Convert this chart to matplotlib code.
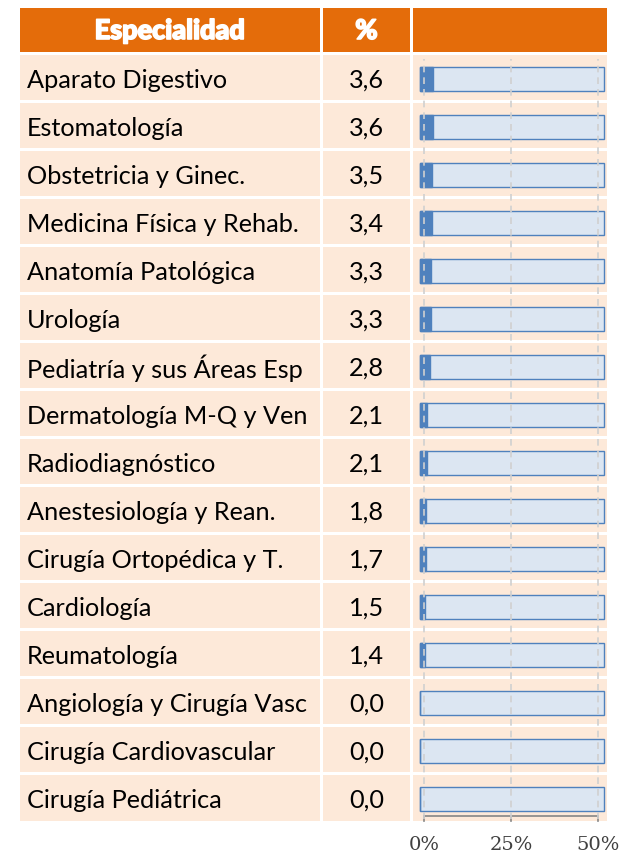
import matplotlib
matplotlib.use("Agg")
import matplotlib.pyplot as plt
import matplotlib.transforms as mtransforms
import matplotlib.patheffects as pe

# Specialties and their share (%)
especialidades = [
    "Aparato Digestivo", "Estomatología", "Obstetricia y Ginec.",
    "Medicina Física y Rehab.", "Anatomía Patológica", "Urología",
    "Pediatría y sus Áreas Esp", "Dermatología M-Q y Ven", "Radiodiagnóstico",
    "Anestesiología y Rean.", "Cirugía Ortopédica y T.", "Cardiología",
    "Reumatología", "Angiología y Cirugía Vasc", "Cirugía Cardiovascular",
    "Cirugía Pediátrica",
]
porcentajes = [3.6, 3.6, 3.5, 3.4, 3.3, 3.3, 2.8, 2.1, 2.1, 1.8, 1.7, 1.5, 1.4, 0.0, 0.0, 0.0]
ticks = [0, 25, 50]
tick_labels = ["0%", "25%", "50%"]
headers = ["Especialidad", "%"]

W, H = 623, 853
ORANGE = "#E46C0A"
PEACH = "#FDE9D9"
BLUE = "#4F81BD"
LIGHT_BLUE = "#DCE6F2"
FONT = "Lato"

fig = plt.figure(figsize=(W / 100, H / 100), dpi=100)
tab = fig.add_axes([0, 0, 1, 1])
tab.set_xlim(0, W)
tab.set_ylim(H, 0)
tab.axis("off")

# column edges in pixels
cols = [(20, 320), (323, 410), (413, 607)]
row_top, row_h, gap = 56, 48, 3

# header (thin white stroke makes the bold look heavier)
heavy = [pe.withStroke(linewidth=1.2, foreground="white")]
for x0, x1 in cols:
    tab.add_patch(plt.Rectangle((x0, 9), x1 - x0, 44, color=ORANGE, lw=0))
tab.text(170, 32, headers[0], color="white", fontsize=19.5, fontweight="black",
         family=FONT, ha="center", va="center", path_effects=heavy)
tab.text(366.5, 32, headers[1], color="white", fontsize=19.5, fontweight="black",
         family=FONT, ha="center", va="center", path_effects=heavy)

# body rows
for i, (name, val) in enumerate(zip(especialidades, porcentajes)):
    y0 = row_top + i * row_h
    h = row_h - gap if i < len(especialidades) - 1 else row_h - 2
    for x0, x1 in cols:
        tab.add_patch(plt.Rectangle((x0, y0), x1 - x0, h, color=PEACH, lw=0))
    yc = y0 + (row_h - gap) / 2 + 2
    tab.text(27, yc, name, fontsize=18.2, family=FONT, ha="left", va="center", color="black")
    tab.text(366.5, yc, f"{val:.1f}".replace(".", ","), fontsize=18.2, family=FONT,
             ha="center", va="center", color="black")

# bar chart inside the third column
n = len(porcentajes)
chart_top, chart_bot = row_top, row_top + n * row_h
ax = fig.add_axes([413 / W, 1 - chart_bot / H, (607 - 413) / W, (chart_bot - chart_top) / H])
ax.patch.set_alpha(0)
px_per_unit = 3.48
ax.set_xlim(-(420 - 413) / px_per_unit, (607 - 420) / px_per_unit)
ax.set_ylim(n - 0.5, -0.5)
for s in ax.spines.values():
    s.set_visible(False)
ax.set_yticks([])
ax.set_xticks([])

pos = list(range(n))
ax.barh(pos, [52.9] * n, left=0, height=0.52, color=LIGHT_BLUE, edgecolor=BLUE, lw=1.0, zorder=1)
ax.barh(pos, porcentajes, left=0, height=0.52, color=BLUE, edgecolor=BLUE, lw=1.0, zorder=2)

# gridlines and axis sit a few pixels to the right of the bar origin
shift = mtransforms.ScaledTranslation(4 / 100, 0, fig.dpi_scale_trans)
grid_tr = ax.get_xaxis_transform() + shift
for t in ticks:
    ax.plot([t, t], [0.005, 0.995], color="#D0D0D0", ls=(0, (4, 3)), lw=1.2,
            zorder=3, transform=grid_tr)

# bottom axis line, tick marks and labels (x in display pixels, y in table pixels)
axis_y = 817
ax_tr = ax.transData + shift
pix_tr = mtransforms.blended_transform_factory(mtransforms.IdentityTransform(), tab.transData)
tick_px = [ax_tr.transform((t, 0))[0] for t in ticks]
tab.plot([tick_px[0], tick_px[-1]], [axis_y, axis_y], color="#868686", lw=1.2, transform=pix_tr)
for xpix, lab in zip(tick_px, tick_labels):
    tab.plot([xpix, xpix], [axis_y, axis_y + 5], color="#868686", lw=1.2, transform=pix_tr)
    tab.text(xpix, 845, lab, fontsize=14, family="DejaVu Serif", ha="center", va="center",
             color="#404040", transform=pix_tr)

fig.savefig("out.png", dpi=100)
